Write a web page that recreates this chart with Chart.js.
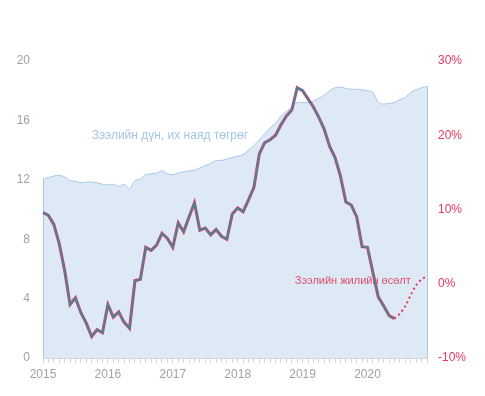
<!DOCTYPE html>
<html>
<head>
<meta charset="utf-8">
<script src="https://cdn.jsdelivr.net/npm/chart.js@4/dist/chart.umd.min.js"></script>
<style>
  html, body { margin: 0; padding: 0; background: #fff; }
  #wrap { width: 485px; height: 396px; position: relative; }
</style>
</head>
<body>
<div id="wrap"><canvas id="loanChart" width="485" height="396"></canvas></div>
<script>
// years on the x axis (monthly data, Jan 2015 - Dec 2020)
const years = [2015, 2016, 2017, 2018, 2019, 2020];

// loan amount, trillion MNT (left axis)
const loanAmount = [
  12.05, 12.15, 12.25, 12.3, 12.2, 11.95, 11.9, 11.8, 11.85, 11.85, 11.8, 11.7,
  11.65, 11.7, 11.55, 11.7, 11.4, 11.95, 12.05, 12.35, 12.4, 12.45, 12.6, 12.4,
  12.35, 12.45, 12.55, 12.6, 12.65, 12.8, 12.95, 13.1, 13.3, 13.3, 13.4, 13.5,
  13.6, 13.7, 14.0, 14.3, 14.7, 15.1, 15.5, 15.8, 16.3, 16.6, 16.9, 17.2,
  17.2, 17.2, 17.3, 17.5, 17.7, 18.0, 18.2, 18.25, 18.15, 18.1, 18.1, 18.05,
  18.0, 17.9, 17.2, 17.1, 17.15, 17.2, 17.4, 17.55, 17.9, 18.05, 18.2, 18.3
];

// annual loan growth, % (right axis) - actual, Jan 2015 - Jun 2020
const loanGrowth = [
  9.6, 9.2, 8.0, 5.4, 1.8, -2.8, -1.9, -3.9, -5.3, -7.1, -6.2, -6.6,
  -2.8, -4.5, -3.8, -5.2, -6.0, 0.4, 0.6, 4.9, 4.5, 5.2, 6.8, 6.1,
  4.9, 8.2, 7.0, 9.0, 10.9, 7.2, 7.5, 6.6, 7.3, 6.4, 6.0, 9.4,
  10.2, 9.7, 11.3, 13.0, 17.5, 19.0, 19.4, 20.0, 21.4, 22.6, 23.4, 26.4,
  26.0, 24.9, 23.8, 22.4, 20.8, 18.5, 17.0, 14.5, 11.0, 10.6, 9.0, 5.0,
  4.9, 1.5, -1.8, -3.0, -4.3, -4.7
];

// dotted continuation, Jun 2020 - Dec 2020
const growthTail = [-4.7, -4.0, -3.0, -1.5, -0.2, 0.6, 1.0];

const labels = [];
years.forEach(y => {
  for (let m = 1; m <= 12; m++) labels.push(y + '-' + m);
});

const growthSolid = labels.map((l, i) => i < loanGrowth.length ? loanGrowth[i] : null);
const tailStart = loanGrowth.length - 1;
const growthDotted = labels.map((l, i) => i >= tailStart ? growthTail[i - tailStart] : null);

const FONT = 'Liberation Sans, Arial, sans-serif';
const RED = '#e8365d';
const AREA_LINE = '#a9c8e8';

// vertical edges of the loan area + text labels, drawn right after the area
const extras = {
  id: 'extras',
  afterDatasetDraw(chart, args) {
    if (args.index !== 2) return;
    const { ctx, chartArea, scales } = chart;
    const pts = args.meta.data;
    ctx.save();
    ctx.strokeStyle = AREA_LINE;
    ctx.lineWidth = 1;
    [pts[0], pts[pts.length - 1]].forEach(p => {
      ctx.beginPath();
      ctx.moveTo(Math.round(p.x) + 0.5, p.y);
      ctx.lineTo(Math.round(p.x) + 0.5, chartArea.bottom);
      ctx.stroke();
    });

    ctx.textBaseline = 'middle';
    ctx.font = '12px ' + FONT;
    ctx.fillStyle = '#a5c5e8';
    ctx.textAlign = 'left';
    ctx.fillText('Зээлийн дүн, их наяд төгрөг', scales.x.getPixelForValue(9), scales.y.getPixelForValue(14.95));

    ctx.font = '11px ' + FONT;
    ctx.fillStyle = '#e0506e';
    ctx.textAlign = 'right';
    ctx.fillText('Зээлийн жилийн өсөлт', scales.x.getPixelForValue(68), scales.y1.getPixelForValue(0.4));
    ctx.restore();
  }
};

new Chart(document.getElementById('loanChart'), {
  type: 'line',
  data: {
    labels,
    datasets: [
      {
        label: 'growth',
        data: growthSolid,
        yAxisID: 'y1',
        borderColor: RED,
        borderWidth: 3,
        pointRadius: 0,
        tension: 0,
        fill: false,
        order: 2
      },
      {
        label: 'growth teal',
        data: growthSolid,
        yAxisID: 'y1',
        borderColor: '#2f90a3',
        borderWidth: 1.6,
        pointRadius: 0,
        tension: 0,
        fill: false,
        order: 1
      },
      {
        label: 'loan',
        data: loanAmount,
        yAxisID: 'y',
        borderColor: AREA_LINE,
        borderWidth: 1,
        backgroundColor: '#dde9f5',
        pointRadius: 0,
        tension: 0.3,
        fill: 'origin',
        order: 4
      },
      {
        label: 'growth forecast',
        data: growthDotted,
        yAxisID: 'y1',
        borderColor: RED,
        borderWidth: 2,
        borderDash: [2, 3],
        pointRadius: 0,
        tension: 0.3,
        fill: false,
        order: 3
      }
    ]
  },
  options: {
    responsive: false,
    animation: false,
    layout: { padding: { top: 61, left: 0, right: 0, bottom: 0 } },
    plugins: { legend: { display: false }, tooltip: { enabled: false } },
    scales: {
      x: {
        offset: false,
        grid: { display: true, drawOnChartArea: false, drawTicks: true, tickLength: 5, color: '#d6d6d6' },
        border: { display: true, color: '#d6d6d6' },
        ticks: {
          autoSkip: false,
          maxRotation: 0,
          padding: 4,
          color: '#a8a09a',
          font: { family: FONT, size: 12 },
          callback: (v, i) => i % 12 === 0 ? String(years[i / 12]) : ''
        },
        afterFit: s => { s.height = 38; }
      },
      y: {
        position: 'left',
        min: 0,
        max: 20,
        grid: { display: false, drawTicks: false },
        border: { display: false },
        ticks: { stepSize: 4, padding: 13, color: '#a8a09a', font: { family: FONT, size: 12 } },
        afterFit: s => { s.width = 43; }
      },
      y1: {
        position: 'right',
        min: -10,
        max: 30,
        grid: { display: false, drawTicks: false },
        border: { display: false },
        ticks: { stepSize: 10, padding: 11, color: RED, font: { family: FONT, size: 12 }, callback: v => v + '%' },
        afterFit: s => { s.width = 58; }
      }
    }
  },
  plugins: [extras]
});
</script>
</body>
</html>
